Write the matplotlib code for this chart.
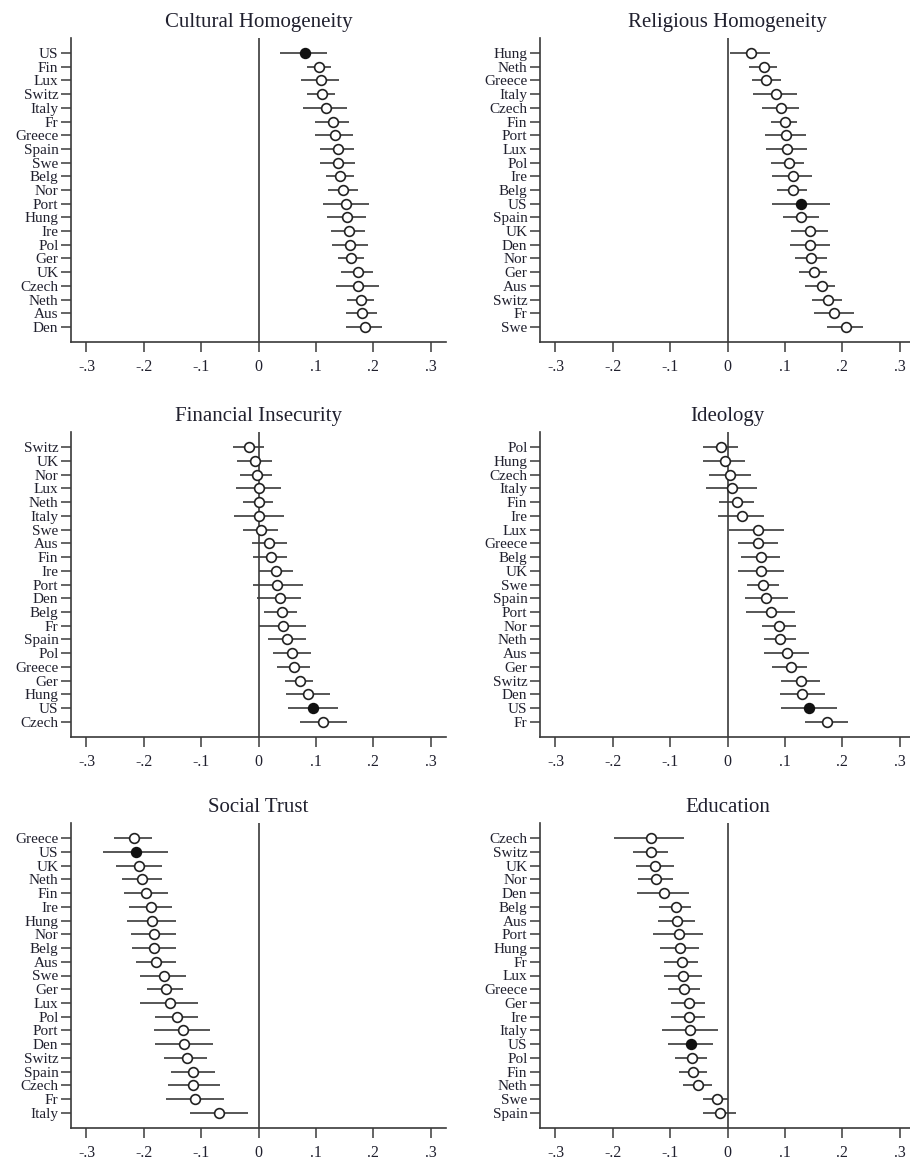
import matplotlib
matplotlib.use("Agg")
import matplotlib.pyplot as plt
import numpy as np

plt.rcParams['font.family'] = ['Liberation Serif', 'DejaVu Serif']

INK = '#20202e'
LINE = '#3a3a3a'

# Cultural Homogeneity
cult_countries = ['US', 'Fin', 'Lux', 'Switz', 'Italy', 'Fr', 'Greece', 'Spain', 'Swe', 'Belg', 'Nor',
                  'Port', 'Hung', 'Ire', 'Pol', 'Ger', 'UK', 'Czech', 'Neth', 'Aus', 'Den']
cult_est = [0.081, 0.106, 0.109, 0.110, 0.117, 0.130, 0.133, 0.138, 0.139, 0.142, 0.147,
            0.153, 0.154, 0.157, 0.160, 0.162, 0.173, 0.173, 0.178, 0.181, 0.185]
cult_lo = [0.038, 0.084, 0.074, 0.084, 0.078, 0.099, 0.099, 0.108, 0.108, 0.117, 0.122,
           0.112, 0.120, 0.126, 0.129, 0.138, 0.144, 0.135, 0.155, 0.153, 0.152]
cult_hi = [0.120, 0.126, 0.141, 0.133, 0.155, 0.158, 0.164, 0.167, 0.169, 0.167, 0.173,
           0.193, 0.187, 0.185, 0.191, 0.184, 0.199, 0.210, 0.201, 0.206, 0.215]

# Religious Homogeneity
rel_countries = ['Hung', 'Neth', 'Greece', 'Italy', 'Czech', 'Fin', 'Port', 'Lux', 'Pol', 'Ire', 'Belg',
                 'US', 'Spain', 'UK', 'Den', 'Nor', 'Ger', 'Aus', 'Switz', 'Fr', 'Swe']
rel_est = [0.041, 0.063, 0.068, 0.085, 0.093, 0.100, 0.102, 0.104, 0.107, 0.114, 0.115,
           0.128, 0.129, 0.144, 0.144, 0.145, 0.150, 0.164, 0.176, 0.186, 0.206]
rel_lo = [0.005, 0.037, 0.043, 0.045, 0.060, 0.076, 0.066, 0.068, 0.076, 0.077, 0.086,
          0.077, 0.096, 0.110, 0.109, 0.117, 0.125, 0.135, 0.148, 0.151, 0.174]
rel_hi = [0.074, 0.086, 0.093, 0.122, 0.125, 0.122, 0.137, 0.138, 0.134, 0.147, 0.139,
          0.179, 0.160, 0.176, 0.179, 0.173, 0.174, 0.188, 0.199, 0.221, 0.237]

# Financial Insecurity
fin_countries = ['Switz', 'UK', 'Nor', 'Lux', 'Neth', 'Italy', 'Swe', 'Aus', 'Fin', 'Ire', 'Port',
                 'Den', 'Belg', 'Fr', 'Spain', 'Pol', 'Greece', 'Ger', 'Hung', 'US', 'Czech']
fin_est = [-0.017, -0.006, -0.003, 0.000, 0.000, 0.001, 0.005, 0.019, 0.022, 0.031, 0.033,
           0.037, 0.041, 0.043, 0.049, 0.059, 0.062, 0.072, 0.087, 0.095, 0.113]
fin_lo = [-0.045, -0.038, -0.033, -0.040, -0.027, -0.042, -0.027, -0.012, -0.010, 0.000, -0.009,
          -0.003, 0.010, 0.000, 0.016, 0.026, 0.032, 0.046, 0.048, 0.051, 0.073]
fin_hi = [0.010, 0.024, 0.023, 0.039, 0.026, 0.044, 0.034, 0.049, 0.049, 0.061, 0.077,
          0.074, 0.068, 0.083, 0.083, 0.091, 0.090, 0.095, 0.125, 0.139, 0.155]

# Ideology
ideo_countries = ['Pol', 'Hung', 'Czech', 'Italy', 'Fin', 'Ire', 'Lux', 'Greece', 'Belg', 'UK', 'Swe',
                  'Spain', 'Port', 'Nor', 'Neth', 'Aus', 'Ger', 'Switz', 'Den', 'US', 'Fr']
ideo_est = [-0.012, -0.004, 0.005, 0.008, 0.017, 0.025, 0.053, 0.054, 0.058, 0.059, 0.062,
            0.068, 0.075, 0.090, 0.092, 0.103, 0.110, 0.129, 0.130, 0.143, 0.173]
ideo_lo = [-0.042, -0.043, -0.033, -0.037, -0.014, -0.017, 0.002, 0.018, 0.023, 0.018, 0.034,
           0.030, 0.032, 0.061, 0.064, 0.064, 0.078, 0.094, 0.091, 0.093, 0.135]
ideo_hi = [0.018, 0.031, 0.041, 0.051, 0.046, 0.064, 0.099, 0.088, 0.092, 0.099, 0.089,
           0.105, 0.117, 0.119, 0.119, 0.143, 0.138, 0.162, 0.170, 0.191, 0.210]

# Social Trust
trust_countries = ['Greece', 'US', 'UK', 'Neth', 'Fin', 'Ire', 'Hung', 'Nor', 'Belg', 'Aus', 'Swe',
                   'Ger', 'Lux', 'Pol', 'Port', 'Den', 'Switz', 'Spain', 'Czech', 'Fr', 'Italy']
trust_est = [-0.218, -0.214, -0.208, -0.203, -0.196, -0.187, -0.185, -0.183, -0.182, -0.178, -0.165,
             -0.162, -0.154, -0.143, -0.132, -0.130, -0.124, -0.114, -0.114, -0.110, -0.069]
trust_lo = [-0.252, -0.272, -0.248, -0.238, -0.235, -0.226, -0.229, -0.223, -0.220, -0.213, -0.206,
            -0.194, -0.206, -0.181, -0.182, -0.181, -0.164, -0.153, -0.158, -0.161, -0.120]
trust_hi = [-0.186, -0.158, -0.168, -0.168, -0.157, -0.150, -0.144, -0.144, -0.144, -0.144, -0.127,
            -0.131, -0.105, -0.105, -0.085, -0.080, -0.089, -0.075, -0.068, -0.060, -0.019]

# Education
edu_countries = ['Czech', 'Switz', 'UK', 'Nor', 'Den', 'Belg', 'Aus', 'Port', 'Hung', 'Fr', 'Lux',
                 'Greece', 'Ger', 'Ire', 'Italy', 'US', 'Pol', 'Fin', 'Neth', 'Swe', 'Spain']
edu_est = [-0.134, -0.133, -0.126, -0.125, -0.111, -0.089, -0.088, -0.085, -0.082, -0.079, -0.077,
           -0.075, -0.068, -0.068, -0.065, -0.064, -0.062, -0.060, -0.052, -0.019, -0.013]
edu_lo = [-0.198, -0.165, -0.160, -0.156, -0.158, -0.119, -0.122, -0.130, -0.117, -0.110, -0.111,
          -0.103, -0.099, -0.098, -0.115, -0.104, -0.092, -0.085, -0.078, -0.043, -0.043]
edu_hi = [-0.075, -0.103, -0.093, -0.095, -0.068, -0.063, -0.057, -0.043, -0.050, -0.052, -0.044,
          -0.048, -0.039, -0.039, -0.017, -0.026, -0.035, -0.036, -0.027, 0.000, 0.015]

panels = [
    ('Cultural Homogeneity', cult_countries, cult_est, cult_lo, cult_hi),
    ('Religious Homogeneity', rel_countries, rel_est, rel_lo, rel_hi),
    ('Financial Insecurity', fin_countries, fin_est, fin_lo, fin_hi),
    ('Ideology', ideo_countries, ideo_est, ideo_lo, ideo_hi),
    ('Social Trust', trust_countries, trust_est, trust_lo, trust_hi),
    ('Education', edu_countries, edu_est, edu_lo, edu_hi),
]

xticks = [-0.3, -0.2, -0.1, 0, 0.1, 0.2, 0.3]
xticklabels = ['-.3', '-.2', '-.1', '0', '.1', '.2', '.3']

W, H = 910, 1162
fig = plt.figure(figsize=(W / 100, H / 100), dpi=100)

col_x = [71, 540]
row_y = [(38, 342), (432, 737), (823, 1128)]
ax_w = 375

for i, (title, countries, est, lo, hi) in enumerate(panels):
    r, c = divmod(i, 2)
    top, bot = row_y[r]
    ax = fig.add_axes([col_x[c] / W, 1 - bot / H, ax_w / W, (bot - top) / H])
    y = np.arange(len(countries))
    ax.axvline(0, color=LINE, lw=1.2, zorder=1)
    ax.hlines(y, lo, hi, color=LINE, lw=1.2, zorder=2)
    est = np.array(est)
    us = np.array([cc == 'US' for cc in countries])
    # US is drawn filled, every other country hollow
    ax.plot(est[~us], y[~us], 'o', ms=7, mfc='white', mec='#222222', mew=1.2, zorder=3)
    ax.plot(est[us], y[us], 'o', ms=7, mfc='#111111', mec='#111111', mew=1.2, zorder=3)

    ax.set_xlim(-0.327, 0.327)
    ax.set_ylim(len(countries) - 1 + 1.1, -1.1)
    ax.set_yticks(y)
    ax.set_yticklabels(countries)
    ax.set_xticks(xticks)
    ax.set_xticklabels(xticklabels)
    ax.tick_params(axis='both', length=7, width=1.1, color=LINE, labelcolor=INK,
                   labelsize=11, pad=2)
    ax.tick_params(axis='x', pad=5, labelsize=11.5)
    for s in ['top', 'right']:
        ax.spines[s].set_visible(False)
    for s in ['left', 'bottom']:
        ax.spines[s].set_color(LINE)
        ax.spines[s].set_linewidth(1.2)
    ax.set_title(title, fontsize=15, color=INK, pad=8)

fig.savefig('out.png', dpi=100)
